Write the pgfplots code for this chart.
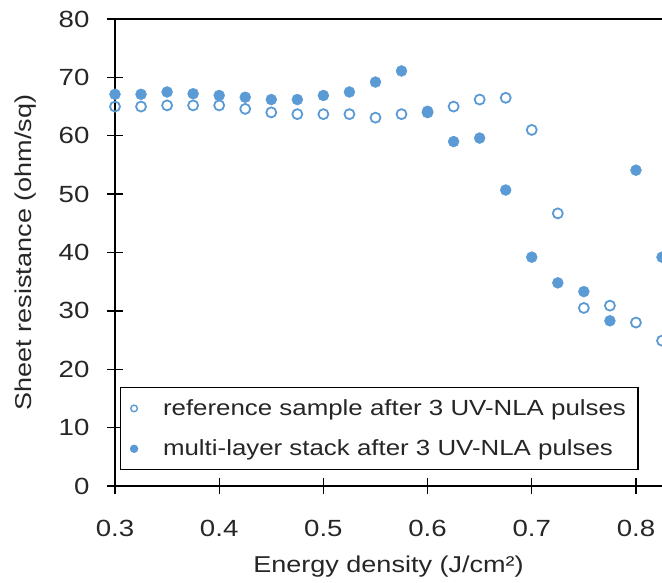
\documentclass[border=0pt]{standalone}
\usepackage{fontspec}
\setmainfont{Liberation Sans}[FakeStretch=1.18]
\usepackage{pgfplots}
\pgfplotsset{compat=1.18}
\usetikzlibrary{calc}
\definecolor{xlblue}{RGB}{91,155,213}

\begin{document}
\begin{tikzpicture}
\begin{axis}[
  scale only axis, width=547bp, height=467bp,
  xmin=0.3, xmax=0.825, ymin=0, ymax=80,
  axis x line*=bottom, axis y line*=left,
  axis line style={black, line width=1.3bp, -},
  tick style={black, line width=1.3bp},
  tick align=center, major tick length=16bp,
  xtick={0.3,0.4,0.5,0.6,0.7,0.8}, ytick={0,10,...,80},
  /pgf/number format/assume math mode=true,
  xticklabel style={yshift=-23bp, /pgf/number format/.cd, fixed, fixed zerofill, precision=1},
  yticklabel style={xshift=-14bp},
  every tick label/.append style={font=\fontsize{23.5}{28}\selectfont, text=black!85},
  xlabel={Energy density (J/cm²)}, ylabel={Sheet resistance (ohm/sq)},
  every axis label/.append style={font=\fontsize{23}{27}\selectfont, text=black!85},
  xlabel style={yshift=-12bp}, ylabel style={yshift=16bp},
  legend style={at={(0.009,0.034)}, anchor=south west, draw=black, line width=1.3bp,
    font=\fontsize{22}{26}\selectfont, text=black!85, row sep=19bp, inner xsep=10bp, inner ysep=10bp},
  legend cell align=left,
  legend image code/.code={\draw[#1] plot coordinates {(2bp,0bp)}; \path[draw=none] (0bp,0bp) -- (29bp,0bp);},
]
\coordinate (sw) at (rel axis cs:0,0);
\coordinate (ne) at (rel axis cs:1,1);
\draw[black, line width=1.3bp] (rel axis cs:0,1) -- (rel axis cs:1,1);

\addplot[only marks, mark=o, mark size=5bp, mark options={draw=xlblue, fill=white, line width=1.8bp},
  legend image post style={mark size=3.3bp, mark options={draw=xlblue, fill=white, line width=1.4bp}}]
  coordinates {
  (0.3,65.0) (0.325,65.0) (0.35,65.2) (0.375,65.2) (0.4,65.2) (0.425,64.6)
  (0.45,64.0) (0.475,63.7) (0.5,63.7) (0.525,63.7) (0.55,63.1) (0.575,63.7)
  (0.6,64.0) (0.625,65.0) (0.65,66.2) (0.675,66.5) (0.7,61.0) (0.725,46.7)
  (0.75,30.5) (0.775,30.9) (0.8,28.0) (0.825,24.9)
  };
\addlegendentry{reference sample after 3 UV-NLA pulses}

\addplot[only marks, mark=*, mark size=5.5bp, mark options={draw=xlblue, fill=xlblue},
  legend image post style={mark size=3.5bp}]
  coordinates {
  (0.3,67.1) (0.325,67.1) (0.35,67.5) (0.375,67.2) (0.4,66.9) (0.425,66.6)
  (0.45,66.2) (0.475,66.2) (0.5,66.9) (0.525,67.5) (0.55,69.2) (0.575,71.1)
  (0.6,64.2) (0.625,59.0) (0.65,59.6) (0.675,50.7) (0.7,39.2) (0.725,34.8)
  (0.75,33.3) (0.775,28.3) (0.8,54.1) (0.825,39.2)
  };
\addlegendentry{multi-layer stack after 3 UV-NLA pulses}
\end{axis}
\pgfresetboundingbox
\path ($(sw)+(-115bp,-97bp)$) rectangle ($(ne)+(0bp,19bp)$);
\end{tikzpicture}
\end{document}
